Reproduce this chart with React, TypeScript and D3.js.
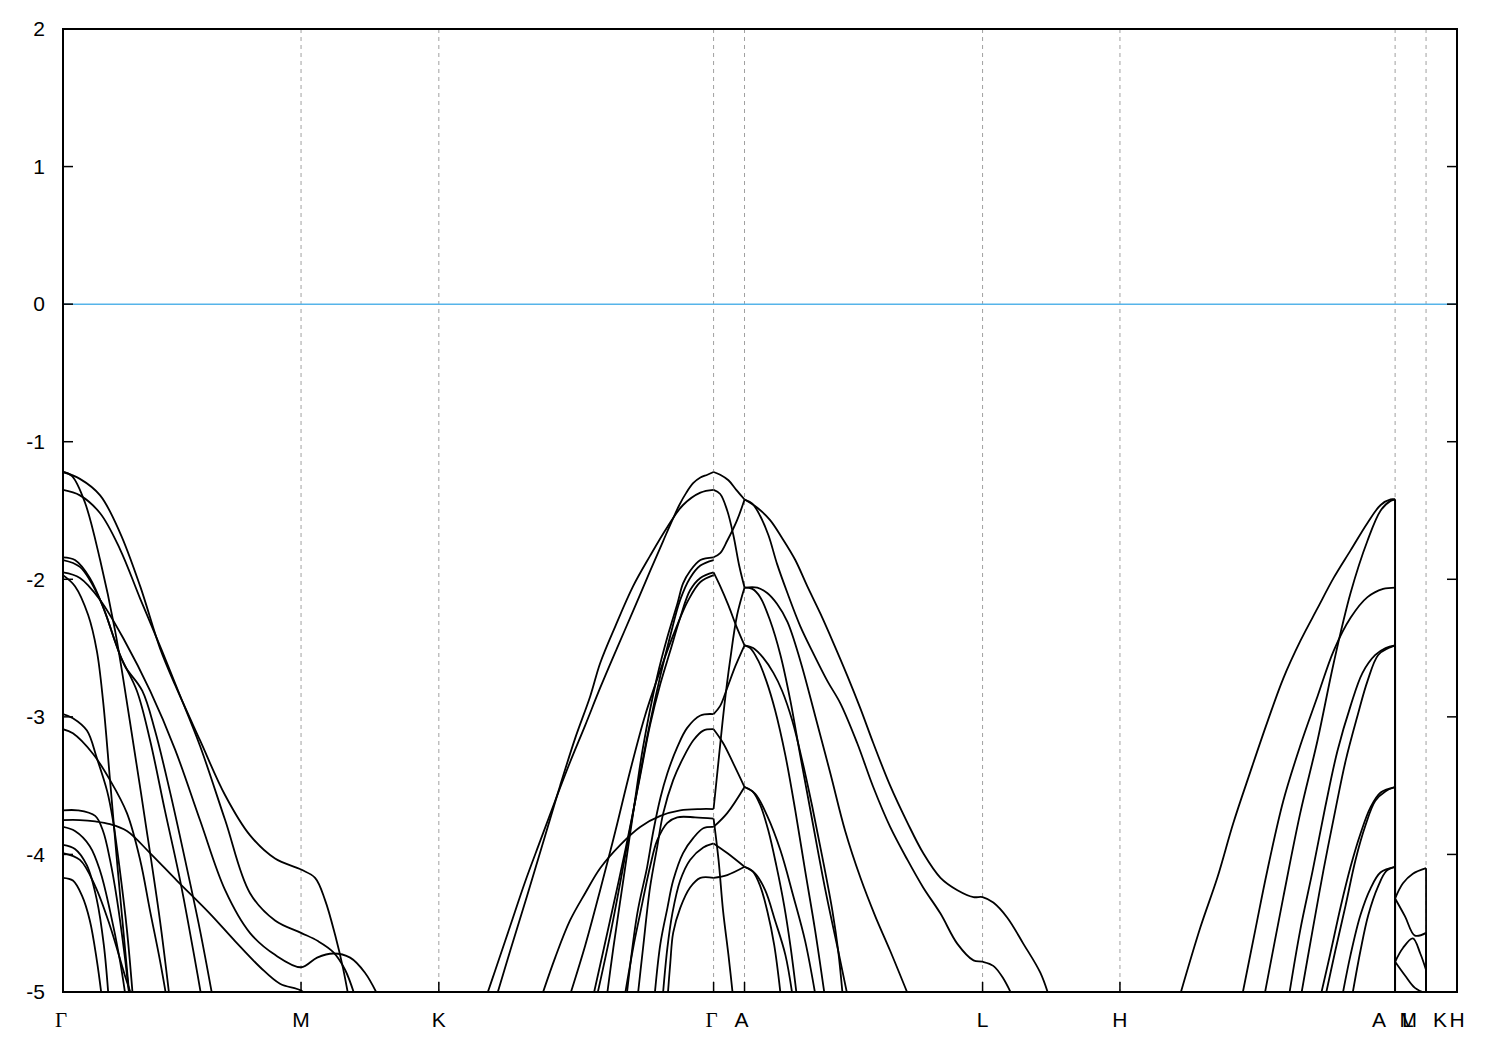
import React from 'react';
import * as d3 from 'd3';

const W = 1500;
const H = 1050;
const MARGIN = { left: 63, right: 43, top: 29, bottom: 58 };

// high-symmetry points along the path (k in 2π/a units)
const kPoints: { k: number; label: string }[] = [
  { k: 0, label: 'Γ' },
  { k: 0.577, label: 'M' },
  { k: 0.911, label: 'K' },
  { k: 1.577, label: 'Γ' },
  { k: 1.652, label: 'A' },
  { k: 2.229, label: 'L' },
  { k: 2.562, label: 'H' },
  { k: 3.229, label: 'A|L' },
  { k: 3.304, label: 'M|K' },
  { k: 3.379, label: 'H' },
];
const kRange: [number, number] = [0, 3.379];
const eRange: [number, number] = [-5, 2];
const yTicks = [-5, -4, -3, -2, -1, 0, 1, 2];
const fermiLevel = 0;

type P = [number, number];

// ---- Γ - M - K ----
const bandGM1: P[] = [[0,-1.22],[0.041,-1.27],[0.090,-1.39],[0.138,-1.66],[0.187,-2.05],[0.235,-2.50],[0.272,-2.77],[0.332,-3.17],[0.393,-3.57],[0.453,-3.86],[0.514,-4.03],[0.577,-4.11],[0.611,-4.17],[0.635,-4.33],[0.660,-4.59],[0.679,-4.83],[0.696,-5.10]];
const bandGM2: P[] = [[0,-1.35],[0.041,-1.39],[0.090,-1.52],[0.138,-1.78],[0.187,-2.14],[0.240,-2.52],[0.279,-2.81],[0.332,-3.21],[0.393,-3.75],[0.453,-4.28],[0.514,-4.48],[0.577,-4.57],[0.618,-4.63],[0.655,-4.71],[0.684,-4.84],[0.715,-5.10]];
const bandGM3: P[] = [[0,-1.22],[0.022,-1.25],[0.053,-1.44],[0.090,-1.86],[0.126,-2.37],[0.162,-3.03],[0.199,-3.75],[0.235,-4.48],[0.259,-5.06]];
const bandGM4: P[] = [[0,-1.84],[0.029,-1.86],[0.065,-1.99],[0.102,-2.24],[0.138,-2.55],[0.179,-2.81],[0.211,-3.17],[0.247,-3.68],[0.284,-4.19],[0.320,-4.77],[0.337,-5.06]];
const bandGM5: P[] = [[0,-1.86],[0.041,-1.91],[0.090,-2.15],[0.126,-2.45],[0.150,-2.63],[0.192,-2.81],[0.223,-3.10],[0.259,-3.54],[0.296,-4.04],[0.332,-4.55],[0.364,-5.06]];
const bandGM6: P[] = [[0,-1.95],[0.041,-1.99],[0.090,-2.15],[0.150,-2.45],[0.211,-2.81],[0.272,-3.24],[0.332,-3.75],[0.393,-4.26],[0.453,-4.57],[0.514,-4.73],[0.577,-4.82],[0.616,-4.75],[0.655,-4.72],[0.696,-4.75],[0.732,-4.86],[0.769,-5.06]];
const bandGM7: P[] = [[0,-1.97],[0.029,-2.05],[0.061,-2.26],[0.082,-2.52],[0.097,-2.88],[0.114,-3.46],[0.133,-4.12],[0.153,-4.77],[0.162,-5.06]];
const bandGM8: P[] = [[0,-2.98],[0.024,-3.01],[0.058,-3.10],[0.082,-3.30],[0.107,-3.54],[0.121,-3.75],[0.138,-4.12],[0.155,-4.55],[0.170,-5.06]];
const bandGM9: P[] = [[0,-3.09],[0.024,-3.12],[0.073,-3.27],[0.114,-3.46],[0.155,-3.70],[0.187,-4.04],[0.211,-4.41],[0.235,-4.77],[0.252,-5.06]];
const bandGM10: P[] = [[0,-3.68],[0.036,-3.68],[0.078,-3.72],[0.097,-3.83],[0.114,-4.04],[0.131,-4.33],[0.148,-4.70],[0.162,-5.06]];
const bandGM11: P[] = [[0,-3.75],[0.041,-3.75],[0.078,-3.76],[0.114,-3.78],[0.155,-3.83],[0.211,-3.99],[0.276,-4.19],[0.356,-4.43],[0.417,-4.63],[0.478,-4.82],[0.526,-4.94],[0.577,-4.99],[0.604,-5.06]];
const bandGM12: P[] = [[0,-3.80],[0.029,-3.83],[0.065,-3.94],[0.090,-4.12],[0.114,-4.41],[0.138,-4.77],[0.153,-5.06]];
const bandGM13: P[] = [[0,-3.93],[0.029,-3.96],[0.058,-4.08],[0.082,-4.33],[0.099,-4.66],[0.111,-5.06]];
const bandGM14: P[] = [[0,-3.99],[0.041,-4.04],[0.078,-4.23],[0.114,-4.52],[0.150,-4.88],[0.170,-5.06]];
const bandGM15: P[] = [[0,-4.17],[0.024,-4.19],[0.046,-4.30],[0.065,-4.48],[0.082,-4.77],[0.095,-5.06]];

// ---- K - Γ ----
const bandKG1: P[] = [[1.023,-5.06],[1.048,-4.84],[1.084,-4.52],[1.120,-4.20],[1.157,-3.90],[1.193,-3.61],[1.229,-3.33],[1.266,-3.06],[1.302,-2.79],[1.343,-2.50],[1.382,-2.23],[1.423,-1.94],[1.455,-1.72],[1.477,-1.57],[1.494,-1.46],[1.511,-1.37],[1.528,-1.30],[1.545,-1.26],[1.562,-1.24],[1.577,-1.22]];
const bandKG2: P[] = [[1.048,-5.06],[1.084,-4.70],[1.125,-4.30],[1.169,-3.86],[1.205,-3.50],[1.241,-3.16],[1.278,-2.85],[1.302,-2.61],[1.339,-2.34],[1.382,-2.05],[1.423,-1.83],[1.465,-1.62],[1.503,-1.46],[1.545,-1.37],[1.577,-1.35]];
const bandKG3: P[] = [[1.157,-5.06],[1.193,-4.75],[1.229,-4.48],[1.266,-4.28],[1.302,-4.10],[1.351,-3.93],[1.399,-3.80],[1.448,-3.72],[1.496,-3.68],[1.545,-3.67],[1.577,-3.67]];
const bandKG4: P[] = [[1.317,-5.06],[1.334,-4.68],[1.358,-4.19],[1.382,-3.70],[1.406,-3.22],[1.440,-2.71],[1.465,-2.42],[1.489,-2.18],[1.503,-2.03],[1.520,-1.94],[1.545,-1.86],[1.577,-1.84]];
const bandKG5: P[] = [[1.292,-5.06],[1.326,-4.59],[1.356,-4.12],[1.387,-3.61],[1.419,-3.10],[1.448,-2.70],[1.472,-2.41],[1.496,-2.15],[1.520,-1.99],[1.545,-1.90],[1.577,-1.86]];
const bandKG6: P[] = [[1.283,-5.06],[1.326,-4.48],[1.363,-3.97],[1.399,-3.43],[1.423,-3.06],[1.448,-2.76],[1.472,-2.52],[1.496,-2.28],[1.520,-2.08],[1.545,-1.99],[1.577,-1.95]];
const bandKG7: P[] = [[1.225,-5.06],[1.266,-4.66],[1.302,-4.26],[1.339,-3.83],[1.375,-3.39],[1.411,-2.99],[1.448,-2.66],[1.484,-2.37],[1.516,-2.15],[1.545,-2.02],[1.577,-1.97]];
const bandKG8: P[] = [[1.365,-5.06],[1.392,-4.43],[1.416,-4.09],[1.431,-3.83],[1.448,-3.59],[1.465,-3.41],[1.489,-3.22],[1.513,-3.08],[1.545,-2.99],[1.577,-2.98]];
const bandKG9: P[] = [[1.392,-5.06],[1.406,-4.68],[1.423,-4.24],[1.440,-3.95],[1.455,-3.70],[1.479,-3.46],[1.503,-3.30],[1.528,-3.17],[1.552,-3.10],[1.577,-3.09]];
const bandKG10: P[] = [[1.360,-5.06],[1.382,-4.68],[1.399,-4.43],[1.423,-4.09],[1.440,-3.90],[1.465,-3.77],[1.489,-3.73],[1.532,-3.73],[1.577,-3.74]];
const bandKG11: P[] = [[1.433,-5.06],[1.448,-4.65],[1.465,-4.39],[1.479,-4.19],[1.503,-3.99],[1.528,-3.88],[1.552,-3.81],[1.577,-3.80]];
const bandKG12: P[] = [[1.453,-5.06],[1.465,-4.68],[1.477,-4.43],[1.496,-4.19],[1.520,-4.04],[1.552,-3.95],[1.577,-3.92]];
const bandKG13: P[] = [[1.465,-5.06],[1.472,-4.79],[1.479,-4.57],[1.496,-4.39],[1.520,-4.24],[1.545,-4.17],[1.577,-4.17]];

// ---- Γ - A ----
const bandGA1: P[] = [[1.577,-1.22],[1.593,-1.24],[1.613,-1.28],[1.632,-1.35],[1.652,-1.42]];
const bandGA2: P[] = [[1.577,-1.35],[1.593,-1.38],[1.610,-1.50],[1.625,-1.68],[1.639,-1.90],[1.652,-2.06]];
const bandGA3: P[] = [[1.577,-1.84],[1.593,-1.81],[1.610,-1.72],[1.634,-1.57],[1.652,-1.42]];
const bandGA4: P[] = [[1.577,-1.95],[1.593,-2.05],[1.613,-2.19],[1.632,-2.34],[1.652,-2.48]];
const bandGA5: P[] = [[1.577,-2.98],[1.593,-2.92],[1.610,-2.79],[1.630,-2.63],[1.652,-2.48]];
const bandGA6: P[] = [[1.577,-3.09],[1.600,-3.19],[1.625,-3.34],[1.652,-3.51]];
const bandGA7: P[] = [[1.577,-3.67],[1.589,-3.32],[1.603,-2.92],[1.617,-2.59],[1.634,-2.26],[1.652,-2.06]];
const bandGA8: P[] = [[1.577,-3.74],[1.589,-4.04],[1.600,-4.41],[1.613,-4.73],[1.625,-5.06]];
const bandGA9: P[] = [[1.577,-3.80],[1.610,-3.70],[1.652,-3.51]];
const bandGA10: P[] = [[1.577,-3.92],[1.610,-3.99],[1.652,-4.09]];
const bandGA11: P[] = [[1.577,-4.17],[1.610,-4.15],[1.652,-4.09]];

// ---- A - L - H ----
const bandAL1: P[] = [[1.652,-1.42],[1.683,-1.48],[1.714,-1.57],[1.743,-1.70],[1.775,-1.86],[1.804,-2.05],[1.836,-2.25],[1.867,-2.46],[1.901,-2.70],[1.933,-2.94],[1.964,-3.19],[2.005,-3.50],[2.047,-3.77],[2.085,-3.99],[2.127,-4.17],[2.168,-4.26],[2.207,-4.31],[2.229,-4.31],[2.255,-4.35],[2.289,-4.46],[2.328,-4.65],[2.369,-4.86],[2.393,-5.06]];
const bandAL2: P[] = [[1.652,-1.42],[1.671,-1.45],[1.690,-1.54],[1.710,-1.68],[1.731,-1.89],[1.756,-2.10],[1.787,-2.34],[1.819,-2.54],[1.853,-2.74],[1.884,-2.90],[1.925,-3.19],[1.964,-3.51],[2.005,-3.80],[2.047,-4.04],[2.085,-4.24],[2.127,-4.43],[2.168,-4.65],[2.207,-4.77],[2.229,-4.78],[2.255,-4.81],[2.279,-4.90],[2.306,-5.06]];
const bandAL3: P[] = [[1.652,-2.06],[1.683,-2.06],[1.707,-2.10],[1.731,-2.18],[1.756,-2.31],[1.787,-2.59],[1.823,-2.99],[1.860,-3.41],[1.896,-3.83],[1.933,-4.17],[1.969,-4.45],[2.005,-4.70],[2.054,-5.06]];
const bandAL4: P[] = [[1.652,-2.06],[1.671,-2.07],[1.690,-2.13],[1.714,-2.30],[1.739,-2.55],[1.763,-2.88],[1.787,-3.28],[1.816,-3.75],[1.848,-4.26],[1.879,-4.70],[1.904,-5.06]];
const bandAL5: P[] = [[1.652,-2.48],[1.673,-2.50],[1.697,-2.57],[1.722,-2.68],[1.743,-2.81],[1.768,-3.03],[1.792,-3.32],[1.816,-3.65],[1.840,-4.01],[1.865,-4.41],[1.879,-4.70],[1.891,-5.06]];
const bandAL6: P[] = [[1.652,-2.48],[1.666,-2.50],[1.685,-2.59],[1.705,-2.74],[1.726,-2.95],[1.751,-3.28],[1.775,-3.68],[1.799,-4.12],[1.823,-4.55],[1.848,-5.06]];
const bandAL7: P[] = [[1.652,-3.51],[1.678,-3.56],[1.707,-3.72],[1.739,-3.97],[1.770,-4.30],[1.799,-4.63],[1.826,-5.06]];
const bandAL8: P[] = [[1.652,-3.51],[1.671,-3.54],[1.690,-3.64],[1.710,-3.83],[1.729,-4.08],[1.748,-4.37],[1.763,-4.66],[1.780,-5.06]];
const bandAL9: P[] = [[1.652,-4.09],[1.678,-4.14],[1.702,-4.26],[1.726,-4.48],[1.751,-4.73],[1.770,-5.06]];
const bandAL10: P[] = [[1.652,-4.09],[1.671,-4.12],[1.690,-4.23],[1.707,-4.41],[1.724,-4.66],[1.741,-5.06]];

// ---- H - A ----
const bandHA1: P[] = [[2.704,-5.06],[2.757,-4.53],[2.798,-4.17],[2.837,-3.77],[2.878,-3.40],[2.919,-3.04],[2.958,-2.72],[2.999,-2.45],[3.041,-2.21],[3.080,-1.99],[3.121,-1.79],[3.162,-1.59],[3.194,-1.46],[3.218,-1.42],[3.229,-1.42]];
const bandHA2: P[] = [[2.910,-5.06],[2.958,-4.31],[2.999,-3.70],[3.041,-3.17],[3.080,-2.61],[3.121,-2.10],[3.162,-1.72],[3.194,-1.50],[3.218,-1.43],[3.229,-1.42]];
const bandHA3: P[] = [[2.856,-5.06],[2.890,-4.55],[2.919,-4.12],[2.958,-3.61],[2.999,-3.21],[3.041,-2.85],[3.080,-2.52],[3.121,-2.28],[3.162,-2.13],[3.200,-2.07],[3.229,-2.06]];
const bandHA4: P[] = [[2.970,-5.06],[2.999,-4.55],[3.029,-4.12],[3.060,-3.65],[3.089,-3.25],[3.121,-2.92],[3.150,-2.68],[3.181,-2.55],[3.206,-2.50],[3.229,-2.48]];
const bandHA5: P[] = [[2.999,-5.06],[3.029,-4.55],[3.055,-4.12],[3.084,-3.68],[3.109,-3.32],[3.138,-2.99],[3.162,-2.74],[3.188,-2.55],[3.213,-2.50],[3.229,-2.48]];
const bandHA6: P[] = [[3.046,-5.06],[3.072,-4.72],[3.097,-4.38],[3.121,-4.09],[3.145,-3.85],[3.169,-3.66],[3.194,-3.55],[3.229,-3.51]];
const bandHA7: P[] = [[3.058,-5.06],[3.084,-4.70],[3.109,-4.37],[3.133,-4.04],[3.157,-3.79],[3.181,-3.61],[3.206,-3.54],[3.229,-3.51]];
const bandHA8: P[] = [[3.099,-5.06],[3.121,-4.73],[3.145,-4.44],[3.169,-4.25],[3.194,-4.13],[3.229,-4.09]];
const bandHA9: P[] = [[3.123,-5.06],[3.145,-4.70],[3.164,-4.44],[3.188,-4.23],[3.208,-4.12],[3.229,-4.09]];

// ---- L - M (after the A|L jump), then the M|K jump ----
const bandLM1: P[] = [[3.229,-4.32],[3.248,-4.21],[3.272,-4.14],[3.304,-4.10],[3.304,-5.4]];
const bandLM2: P[] = [[3.229,-4.32],[3.253,-4.45],[3.277,-4.59],[3.304,-4.57],[3.304,-5.4]];
const bandLM3: P[] = [[3.229,-4.78],[3.248,-4.68],[3.272,-4.61],[3.290,-4.72],[3.304,-4.84],[3.304,-5.4]];
const bandLM4: P[] = [[3.229,-4.78],[3.253,-4.88],[3.277,-4.97],[3.304,-5.01],[3.304,-5.4]];
const belowWindow: P[] = [[3.229,-5.4]];

const bands: P[][] = [
  bandGM1, bandGM2, bandGM3, bandGM4, bandGM5, bandGM6, bandGM7, bandGM8,
  bandGM9, bandGM10, bandGM11, bandGM12, bandGM13, bandGM14, bandGM15,
  bandKG1, bandKG2, bandKG3, bandKG4, bandKG5, bandKG6, bandKG7, bandKG8,
  bandKG9, bandKG10, bandKG11, bandKG12, bandKG13,
  bandGA1, bandGA2, bandGA3, bandGA4, bandGA5, bandGA6, bandGA7, bandGA8,
  bandGA9, bandGA10, bandGA11,
  bandAL1, bandAL2, bandAL3, bandAL4, bandAL5, bandAL6, bandAL7, bandAL8,
  bandAL9, bandAL10,
  [...bandHA1, ...bandLM1],
  [...bandHA2, ...bandLM2],
  [...bandHA3, ...bandLM3],
  [...bandHA4, ...bandLM4],
  [...bandHA5, ...belowWindow],
  [...bandHA6, ...belowWindow],
  [...bandHA7, ...belowWindow],
  [...bandHA8, ...belowWindow],
  [...bandHA9, ...belowWindow],
];

// split a band into pieces where k increases; pieces are joined by straight jumps
function splitRuns(b: P[]): P[][] {
  const runs: P[][] = [];
  let cur: P[] = [];
  b.forEach((p, i) => {
    if (i > 0 && p[0] <= b[i - 1][0] + 1e-9) {
      runs.push(cur);
      cur = [];
    }
    cur.push(p);
  });
  if (cur.length) runs.push(cur);
  return runs;
}

export default function App() {
  const x = d3.scaleLinear().domain(kRange).range([MARGIN.left, W - MARGIN.right]);
  const y = d3.scaleLinear().domain(eRange).range([H - MARGIN.bottom, MARGIN.top]);
  const line = d3
    .line<P>()
    .x((d) => x(d[0]))
    .y((d) => y(d[1]))
    .curve(d3.curveCatmullRom.alpha(0.5));

  const x0 = MARGIN.left;
  const x1 = W - MARGIN.right;
  const y0 = MARGIN.top;
  const y1 = H - MARGIN.bottom;
  const sans = '"Liberation Sans", Arial, sans-serif';
  const serif = '"Liberation Serif", "Times New Roman", serif';
  const fs = 21;

  const paths: string[] = [];
  const jumps: [P, P][] = [];
  bands.forEach((b) => {
    const runs = splitRuns(b);
    runs.forEach((r, i) => {
      if (r.length > 1) paths.push(line(r) as string);
      if (i > 0) jumps.push([runs[i - 1][runs[i - 1].length - 1], r[0]]);
    });
  });

  return (
    <svg width={W} height={H} style={{ position: 'absolute', left: 0, top: 0, background: '#fff' }}>
      <defs>
        <clipPath id="plotClip">
          <rect x={x0} y={y0} width={x1 - x0} height={y1 - y0} />
        </clipPath>
      </defs>
      <rect x={0} y={0} width={W} height={H} fill="#fff" />
      {kPoints
        .filter((p) => p.k > kRange[0] && p.k < kRange[1])
        .map((p, i) => (
          <line key={'g' + i} x1={x(p.k)} x2={x(p.k)} y1={y0} y2={y1} stroke="#a0a0a0" strokeWidth={1} strokeDasharray="4,4" />
        ))}
      <line x1={x0} x2={x1} y1={y(fermiLevel)} y2={y(fermiLevel)} stroke="#56b4e9" strokeWidth={1.5} />
      <g clipPath="url(#plotClip)" fill="none" stroke="#000" strokeWidth={1.8} strokeLinejoin="round">
        {paths.map((d, i) => (
          <path key={'b' + i} d={d} />
        ))}
        {jumps.map(([a, b], i) => (
          <line key={'j' + i} x1={x(a[0])} y1={y(a[1])} x2={x(b[0])} y2={y(b[1])} />
        ))}
      </g>
      <rect x={x0} y={y0} width={x1 - x0} height={y1 - y0} fill="none" stroke="#000" strokeWidth={2} />
      {yTicks.map((t) => (
        <g key={'yt' + t}>
          <line x1={x0} x2={x0 + 10} y1={y(t)} y2={y(t)} stroke="#000" strokeWidth={1.5} />
          <line x1={x1} x2={x1 - 10} y1={y(t)} y2={y(t)} stroke="#000" strokeWidth={1.5} />
          <text x={45} y={y(t)} dy="0.35em" textAnchor="end" fontFamily={sans} fontSize={fs}>
            {t}
          </text>
        </g>
      ))}
      {kPoints.map((p, i) => (
        <line key={'xt' + i} x1={x(p.k)} x2={x(p.k)} y1={y1} y2={y1 - 10} stroke="#000" strokeWidth={1.5} />
      ))}
      {kPoints.map((p, i) => {
        const px = x(p.k);
        const ty = 1027;
        const font = (s: string) => (s === 'Γ' ? serif : sans);
        if (p.label.includes('|')) {
          const [a, b] = p.label.split('|');
          return (
            <g key={'xl' + i}>
              <text x={px - 9} y={ty} textAnchor="end" fontFamily={font(a)} fontSize={fs}>{a}</text>
              <text x={px + 7} y={ty} textAnchor="start" fontFamily={font(b)} fontSize={fs}>{b}</text>
            </g>
          );
        }
        return (
          <text key={'xl' + i} x={px - (p.label === 'Γ' ? 2 : p.label === 'A' ? 3 : 0)} y={ty} textAnchor="middle" fontFamily={font(p.label)} fontSize={fs}>
            {p.label}
          </text>
        );
      })}
    </svg>
  );
}
